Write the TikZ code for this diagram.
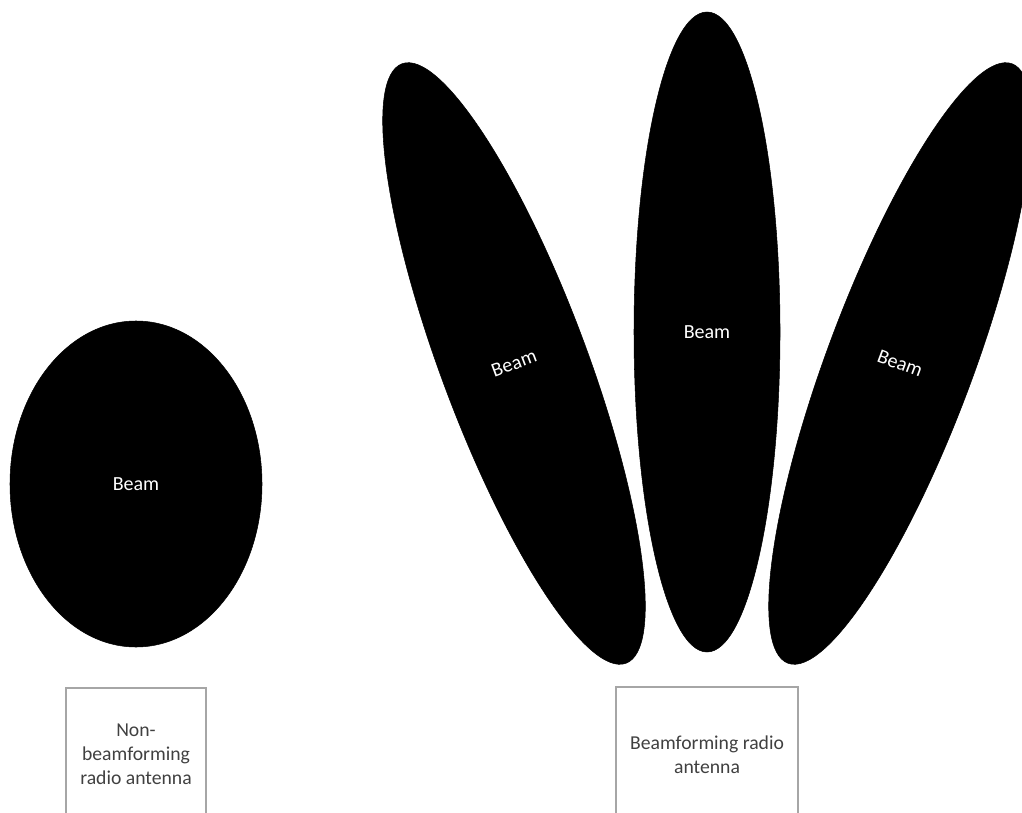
\documentclass[tikz,border=0pt]{standalone}
\usepackage{fontspec}
\setsansfont{Carlito}
\usepackage{xcolor}
\usepackage{tikz}
\usetikzlibrary{shapes.geometric}
\definecolor{boxline}{HTML}{A6A6A6}
\definecolor{boxtext}{HTML}{404040}
\tikzset{
  beam/.style={ellipse, fill=black, draw=black, line width=0.3pt, inner sep=0pt,
               text=white, font=\sffamily\fontsize{11.4}{13.7}\selectfont},
  antbox/.style={rectangle, draw=boxline, line width=0.6pt, align=center,
                 text=boxtext, font=\sffamily\fontsize{11.2}{13.7}\selectfont},
}

\begin{document}
\begin{tikzpicture}
  \clip (0,0) rectangle (20.44,16.24);
  \useasboundingbox (0,0) rectangle (20.44,16.24);
  % beams
  \node[beam, minimum width=5.04cm, minimum height=6.52cm] (wide) at (2.72,6.56) {Beam};
  \node[beam, minimum width=2.92cm, minimum height=12.8cm, rotate=20.5] (bleft) at (10.28,8.97) {Beam};
  \node[beam, minimum width=2.92cm, minimum height=12.8cm] (bmid) at (14.14,9.6) {Beam};
  \node[beam, minimum width=2.92cm, minimum height=12.8cm, rotate=-20.5] (bright) at (18.0,8.97) {Beam};
  % antennas
  \node[antbox, minimum width=2.8cm, minimum height=2.66cm] (nonbf) at (2.72,1.15) {Non-\\beamforming\\radio antenna};
  \node[antbox, minimum width=3.64cm, minimum height=2.7cm] (bf) at (14.14,1.15) {Beamforming radio\\antenna};
\end{tikzpicture}
\end{document}
